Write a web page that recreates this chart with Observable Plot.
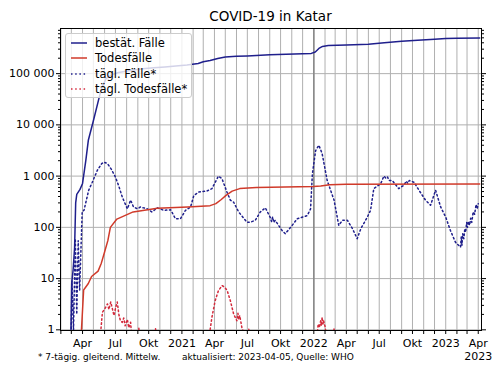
<!DOCTYPE html>
<html><head><meta charset="utf-8">
<script src="https://cdn.jsdelivr.net/npm/d3@7"></script>
<script src="https://cdn.jsdelivr.net/npm/@observablehq/plot@0.6"></script>
<style>
body{margin:0;background:#fff;font-family:"DejaVu Sans",sans-serif;}
#wrap{position:relative;width:500px;height:375px;overflow:hidden;}
#wrap svg.plot{position:absolute;left:0;top:0;}
.title{position:absolute;left:60px;width:421px;top:8px;text-align:center;font-size:13.5px;color:#000;}
.foot{position:absolute;top:352px;font-size:9px;color:#000;white-space:nowrap;}
#legend{position:absolute;left:65px;top:33px;width:127px;height:65px;background:rgba(255,255,255,0.8);border:1px solid #cccccc;border-radius:3px;box-sizing:border-box;}
.row{position:absolute;left:4px;height:14px;font-size:11.5px;line-height:14px;white-space:nowrap;color:#000;}
.row svg{position:absolute;left:0;top:2px;}
.row span{position:absolute;left:25px;top:0;}
</style></head><body>
<div id="wrap"></div>
<script>
// ---- data ----
const cumCases = [
 ["2020-02-29",1],["2020-03-02",8],["2020-03-06",15],["2020-03-10",40],["2020-03-13",300],["2020-03-16",440],
 ["2020-03-25",550],["2020-04-01",720],["2020-04-10",2000],["2020-04-17",5000],["2020-05-01",12000],
 ["2020-05-15",30000],["2020-05-23",50000],["2020-06-05",80000],["2020-06-20",95000],["2020-07-10",105000],
 ["2020-08-15",117000],["2020-09-15",124000],["2020-10-15",130000],["2020-11-15",135000],["2020-12-15",141000],
 ["2021-01-15",148000],["2021-02-15",158000],["2021-03-01",170000],["2021-03-20",180000],["2021-04-10",198000],
 ["2021-05-01",212000],["2021-06-01",218000],["2021-07-01",222000],["2021-09-01",233000],["2021-12-01",244000],
 ["2021-12-25",248000],["2022-01-05",265000],["2022-01-15",310000],["2022-01-25",340000],["2022-02-10",355000],
 ["2022-04-01",362000],["2022-06-01",375000],["2022-07-15",400000],["2022-09-01",430000],["2022-10-15",450000],
 ["2022-12-01",470000],["2023-01-01",485000],["2023-02-01",492000],["2023-04-05",497000]
];
const cumDeaths = [
 ["2020-03-27",0.5],["2020-03-29",1],["2020-04-04",6],["2020-04-17",8],["2020-04-26",11],["2020-05-14",14],
 ["2020-05-23",20],["2020-06-01",33],["2020-06-10",55],["2020-06-17",100],["2020-07-05",145],["2020-08-19",200],
 ["2020-10-25",235],["2021-01-17",250],["2021-03-20",265],["2021-04-05",290],["2021-04-20",350],["2021-05-03",420],
 ["2021-05-20",510],["2021-06-10",570],["2021-07-26",600],["2021-12-31",625],["2022-01-20",640],["2022-02-14",680],
 ["2022-04-01",695],["2023-04-05",700]
];
const dailyCases = [
 ["2020-02-29",0.5],["2020-03-03",9],["2020-03-07",1],["2020-03-12",60],["2020-03-16",2],["2020-03-20",55],
 ["2020-03-24",6],["2020-03-28",45],["2020-03-31",200],["2020-04-05",215],["2020-04-18",530],
 ["2020-04-28",760],["2020-05-12",1300],["2020-05-24",1750],["2020-05-30",1880],["2020-06-09",1750],["2020-06-20",1350],
 ["2020-07-01",960],["2020-07-10",650],["2020-07-20",390],["2020-08-03",230],["2020-08-12",340],["2020-08-20",250],
 ["2020-08-31",230],["2020-09-08",250],["2020-09-17",240],["2020-09-27",230],["2020-10-10",200],["2020-10-25",240],
 ["2020-11-12",215],["2020-12-01",220],["2020-12-14",147],["2020-12-28",147],["2021-01-11",215],["2021-01-25",250],
 ["2021-02-03",420],["2021-02-17",490],["2021-03-11",510],["2021-03-25",570],["2021-04-12",1000],["2021-04-22",890],
 ["2021-05-05",500],["2021-05-15",340],["2021-05-24",310],["2021-06-07",200],["2021-06-30",126],["2021-07-09",126],
 ["2021-07-23",137],["2021-08-06",200],["2021-08-20",240],["2021-09-02",158],["2021-09-06",130],["2021-09-09",160],
 ["2021-09-12",125],["2021-09-16",137],["2021-10-05",87],["2021-10-14",75],["2021-11-02",109],["2021-11-16",147],
 ["2021-12-14",170],["2021-12-23",230],["2021-12-28",1100],["2022-01-06",3150],["2022-01-15",4000],["2022-01-24",2750],
 ["2022-02-07",820],["2022-02-26",340],["2022-03-11",109],["2022-03-21",137],["2022-04-04",137],["2022-04-18",94],
 ["2022-05-01",60],["2022-05-11",94],["2022-05-29",158],["2022-06-07",215],["2022-06-16",570],["2022-07-05",710],
 ["2022-07-14",1000],["2022-07-20",900],["2022-07-24",960],["2022-07-28",820],["2022-08-06",820],["2022-08-24",570],
 ["2022-09-07",660],["2022-09-14",800],["2022-09-18",720],["2022-09-22",820],["2022-10-05",760],["2022-10-19",530],
 ["2022-11-06",340],["2022-11-20",270],["2022-12-04",530],["2022-12-18",250],["2023-01-01",158],["2023-01-14",87],
 ["2023-01-28",51],["2023-02-11",41],["2023-02-13",65],["2023-02-15",45],["2023-02-17",75],["2023-02-20",60],
 ["2023-02-23",95],["2023-02-25",80],["2023-02-28",125],["2023-03-02",100],["2023-03-05",130],["2023-03-08",110],
 ["2023-03-11",150],["2023-03-14",125],["2023-03-18",200],["2023-03-22",180],["2023-03-26",280],["2023-03-29",230],
 ["2023-04-01",290]
];
const dailyDeaths = [
 ["2020-05-18",0.5],["2020-05-26",2.2],["2020-06-02",2.6],["2020-06-09",3.2],["2020-06-13",2.5],["2020-06-18",3.5],
 ["2020-06-23",2.5],["2020-06-27",1.9],["2020-07-02",2.8],["2020-07-06",3.5],["2020-07-11",1.9],["2020-07-15",1.5],
 ["2020-07-20",1.4],["2020-07-24",1.7],["2020-07-28",1.2],["2020-08-03",1.6],["2020-08-07",1.1],["2020-08-12",1.4],
 ["2020-08-16",0.6],["2020-09-01",0.5],["2020-09-04",1.1],["2020-09-07",0.5],["2020-10-17",0.5],["2020-10-20",1.05],
 ["2020-10-23",0.5],["2021-03-14",0.5],["2021-03-25",1.76],["2021-04-03",3.7],["2021-04-12",5.8],["2021-04-22",7.3],
 ["2021-04-29",6.8],["2021-05-06",5.9],["2021-05-15",3.7],["2021-05-24",2.05],["2021-06-02",1.5],["2021-06-05",2.1],
 ["2021-06-07",1.6],["2021-06-10",1.9],["2021-06-16",1.1],["2021-06-21",0.9],["2021-07-02",0.6],["2021-07-05",1.05],
 ["2021-07-08",0.5],["2022-01-08",0.5],["2022-01-13",1.3],["2022-01-16",1.1],["2022-01-20",1.5],["2022-01-22",1.2],
 ["2022-01-24",1.76],["2022-01-26",1.3],["2022-01-28",1.5],["2022-02-02",1.1],["2022-02-05",0.5],["2022-02-24",0.5],
 ["2022-02-26",1.1],["2022-02-28",0.5],["2023-04-05",0.5]
];
const yTicks = [1, 10, 100, 1000, 10000, 100000];
const monthAbbr = ["", "", "", "Apr", "", "", "Jul", "", "", "Okt", "", ""];
const markerDates = ["2022-01-01"];
const seriesNames = ["bestät. Fälle", "Todesfälle", "tägl. Fälle*", "tägl. Todesfälle*"];
const titleText = "COVID-19 in Katar";
const footLeft = "* 7-tägig. gleitend. Mittelw.";
const footRight = "aktualisiert: 2023-04-05, Quelle: WHO";

// ---- build ----
const navy = "#1f1f8c", red = "#d03a2a", red2 = "#d42a3c";
const dots = "1.5,2.7";
const parse = d3.utcParse("%Y-%m-%d");
const rows = arr => arr.map(([d, v]) => ({date: parse(d), v}));
const months = d3.utcMonth.range(new Date(Date.UTC(2020,1,1)), new Date(Date.UTC(2023,3,2)));
const minor = [];
for (let e = 0; e <= 5; e++) for (let k = 2; k <= 9; k++) { const v = k * 10 ** e; if (v < 760000) minor.push(v); }
const fmtX = d => {
  const m = d.getUTCMonth(), y = d.getUTCFullYear();
  if (y === 2023 && m === 3) return "Apr\n2023";
  if (m === 0) return String(y);
  return monthAbbr[m];
};
const fmtY = d => d3.format(",")(d).replace(/,/g, " ");
const blank = () => "";

const chart = Plot.plot({
  width: 500, height: 375,
  marginLeft: 60, marginRight: 19, marginTop: 28, marginBottom: 45,
  style: {fontFamily: "DejaVu Sans, sans-serif", fontSize: "11px", color: "black", background: "transparent"},
  x: {type: "utc", domain: [new Date(Date.UTC(2020,0,31)), new Date(Date.UTC(2023,3,10))]},
  y: {type: "log", domain: [0.97, 760000]},
  marks: [
    Plot.gridX(months, {stroke: "#b0b0b0", strokeOpacity: 1, strokeWidth: 1}),
    Plot.gridY(yTicks, {stroke: "#b0b0b0", strokeOpacity: 1, strokeWidth: 1}),
    Plot.ruleX(markerDates.map(parse), {stroke: "#8a8a8a", strokeWidth: 1.6}),
    Plot.line(rows(dailyDeaths), {x: "date", y: "v", stroke: red2, strokeWidth: 1.5, strokeDasharray: dots, clip: true}),
    Plot.line(rows(dailyCases), {x: "date", y: "v", stroke: navy, strokeWidth: 1.5, strokeDasharray: dots, clip: true}),
    Plot.line(rows(cumDeaths), {x: "date", y: "v", stroke: red, strokeWidth: 1.5, clip: true}),
    Plot.line(rows(cumCases), {x: "date", y: "v", stroke: navy, strokeWidth: 1.5, clip: true}),
    Plot.frame({stroke: "black", strokeWidth: 1}),
    Plot.axisX(months, {tickFormat: fmtX, tickSize: 4, tickPadding: 3, label: null, lineHeight: 1.2}),
    Plot.axisY(yTicks, {tickFormat: fmtY, tickSize: 4, tickPadding: 2, label: null}),
    Plot.axisY(minor, {tickFormat: blank, tickSize: 2, label: null}),
    Plot.axisY(yTicks, {anchor: "right", tickFormat: blank, tickSize: 4, label: null}),
    Plot.axisY(minor, {anchor: "right", tickFormat: blank, tickSize: 2, label: null})
  ]
});
chart.classList.add("plot");
const wrap = document.getElementById("wrap");
wrap.appendChild(chart);

const t = document.createElement("div"); t.className = "title"; t.textContent = titleText; wrap.appendChild(t);
const f1 = document.createElement("div"); f1.className = "foot"; f1.style.left = "38px"; f1.textContent = footLeft; wrap.appendChild(f1);
const f2 = document.createElement("div"); f2.className = "foot"; f2.style.left = "182px"; f2.textContent = footRight; wrap.appendChild(f2);

const legend = document.createElement("div"); legend.id = "legend";
const styles = [[navy, null], [red, null], [navy, dots], [red2, dots]];
seriesNames.forEach((name, i) => {
  const r = document.createElement("div"); r.className = "row"; r.style.top = (2 + i * 15.3) + "px";
  const [c, dash] = styles[i];
  r.innerHTML = `<svg width="20" height="10"><line x1="1" x2="17" y1="5" y2="5" stroke="${c}" stroke-width="1.5" ${dash ? `stroke-dasharray="${dash}"` : ""}/></svg><span></span>`;
  r.querySelector("span").textContent = name;
  legend.appendChild(r);
});
wrap.appendChild(legend);
</script>
</body></html>
